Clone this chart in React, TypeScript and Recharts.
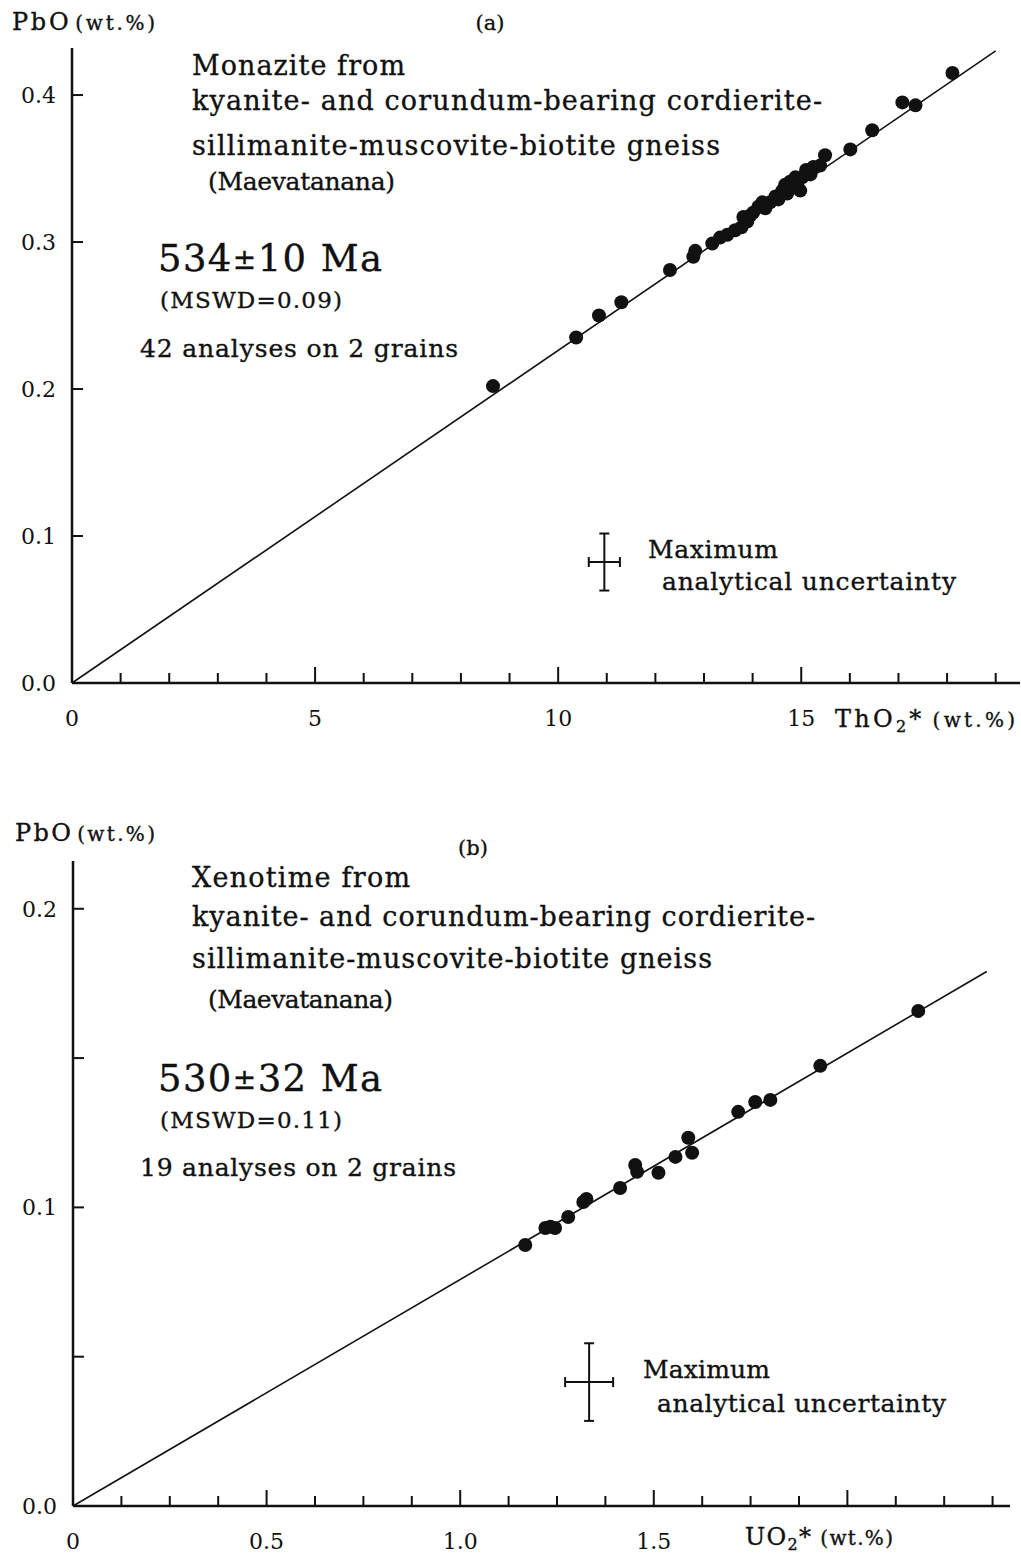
import React from 'react'
import { ScatterChart, Scatter, XAxis, YAxis, ReferenceLine, ErrorBar } from 'recharts'

// (a) monazite: ThO2* vs PbO (wt.%)
const monaziteTh = [
  8.66, 10.37, 10.84, 11.30, 12.30, 12.78, 12.82, 13.17, 13.33, 13.48,
  13.64, 13.77, 13.81, 13.89, 13.95, 14.01, 14.12, 14.20, 14.26, 14.36,
  14.47, 14.53, 14.57, 14.61, 14.67, 14.71, 14.77, 14.84, 14.88, 14.92,
  14.98, 15.02, 15.10, 15.19, 15.25, 15.39, 15.49, 16.01, 16.46, 17.08,
  17.35, 18.11,
]
const monazitePb = [
  0.202, 0.235, 0.250, 0.259, 0.281, 0.290, 0.294, 0.299, 0.303, 0.305,
  0.308, 0.310, 0.317, 0.314, 0.318, 0.320, 0.324, 0.327, 0.323, 0.327,
  0.331, 0.329, 0.332, 0.335, 0.339, 0.333, 0.341, 0.337, 0.344, 0.339,
  0.335, 0.344, 0.349, 0.346, 0.351, 0.352, 0.359, 0.363, 0.376, 0.395,
  0.393, 0.415,
]

// (b) xenotime: UO2* vs PbO (wt.%)
const xenotimeU = [
  1.168, 1.220, 1.233, 1.245, 1.279, 1.318, 1.326, 1.413, 1.452, 1.457,
  1.512, 1.556, 1.589, 1.599, 1.718, 1.762, 1.801, 1.930, 2.183,
]
const xenotimePb = [
  0.0874, 0.0931, 0.0935, 0.0931, 0.0968, 0.1018, 0.1028, 0.1065, 0.1142, 0.1119,
  0.1116, 0.1169, 0.1233, 0.1183, 0.1320, 0.1353, 0.1360, 0.1474, 0.1658,
]

// isochron lines through the origin
const monaziteFit = [{ x: 0, y: 0 }, { x: 19.0, y: 0.43 }]
const xenotimeFit = [{ x: 0, y: 0 }, { x: 2.36, y: 0.179 }]

// "maximum analytical uncertainty" crosses
const monaziteErr = [{ x: 10.95, y: 0.0823, ex: 0.32, ey: 0.0194 }]
const xenotimeErr = [{ x: 1.333, y: 0.0415, ex: 0.062, ey: 0.013 }]

// axis ticks
const thTicks = [0, 1, 2, 3, 4, 5, 6, 7, 8, 9, 10, 11, 12, 13, 14, 15, 16, 17, 18, 19]
const thMajor = [5, 10, 15]
const thLabelValues = [0, 5, 10, 15]
const thLabels = ['0', '5', '10', '15']
const pbTicksA = [0, 0.1, 0.2, 0.3, 0.4]
const pbLabelsA = ['0.0', '0.1', '0.2', '0.3', '0.4']

const uTicks = [
  0, 0.125, 0.25, 0.375, 0.5, 0.625, 0.75, 0.875, 1.0, 1.125, 1.25, 1.375,
  1.5, 1.625, 1.75, 1.875, 2.0, 2.125, 2.25, 2.375,
]
const uMajor = [0.5, 1.0, 1.5, 2.0]
const uLabelValues = [0, 0.5, 1.0, 1.5]
const uLabels = ['0', '0.5', '1.0', '1.5']
const pbTicksB = [0, 0.05, 0.1, 0.15, 0.2]
const pbLabelsB = ['0.0', '', '0.1', '', '0.2']

const serif = '"DejaVu Serif", "Liberation Serif", serif'
const ink = '#111'

const near = (a: number, b: number) => Math.abs(a - b) < 1e-6

function XTick(props: any) {
  const { x = 0, y = 0, payload, majors, labelValues, labels } = props
  const v = payload?.value ?? 0
  const isMajor = majors.some((m: number) => near(m, v))
  const li = labelValues.findIndex((m: number) => near(m, v))
  return (
    <g>
      {v > 0 && (
        <line x1={x} y1={y} x2={x} y2={y - (isMajor ? 16 : 10)} stroke={ink} strokeWidth={2} />
      )}
      {li >= 0 && (
        <text x={x} y={y + 43} textAnchor="middle" fontFamily={serif} fontSize={22} fill={ink}>
          {labels[li]}
        </text>
      )}
    </g>
  )
}

function YTick(props: any) {
  const { x = 0, y = 0, payload, values, labels } = props
  const v = payload?.value ?? 0
  const li = values.findIndex((m: number) => near(m, v))
  return (
    <g>
      {v > 0 && <line x1={x} y1={y} x2={x + 11} y2={y} stroke={ink} strokeWidth={2} />}
      {li >= 0 && labels[li] && (
        <text x={x - 16} y={y + 8} textAnchor="end" fontFamily={serif} fontSize={22} fill={ink}>
          {labels[li]}
        </text>
      )}
    </g>
  )
}

const Dot = (p: any) => <circle cx={p.cx} cy={p.cy} r={7} fill={ink} />
const Nothing = () => <g />

const axisLine = { stroke: ink, strokeWidth: 2.5 }

// 文字标注，宽度按原图拉伸
function T({ x, y, w, size, children, anchor }: any) {
  return (
    <text
      x={x}
      y={y}
      fontFamily={serif}
      fontSize={size}
      fill={ink}
      stroke={ink}
      strokeWidth={0.35}
      textLength={w}
      lengthAdjust="spacing"
      textAnchor={anchor}
    >
      {children}
    </text>
  )
}

export default function App() {
  const monazite = monaziteTh.map((x, i) => ({ x, y: monazitePb[i] }))
  const xenotime = xenotimeU.map((x, i) => ({ x, y: xenotimePb[i] }))

  return (
    <div style={{ position: 'absolute', left: 0, top: 0, width: 1021, height: 1556, background: '#fff' }}>
      {/* (a) 独居石 */}
      <div style={{ position: 'absolute', left: 0, top: 0 }}>
        <ScatterChart width={1021} height={760} margin={{ top: 48, right: 1, left: 12, bottom: 37 }}>
          <XAxis
            type="number"
            dataKey="x"
            domain={[0, 19.5]}
            ticks={thTicks}
            interval={0}
            height={40}
            tickSize={0}
            tickMargin={0}
            tickLine={false}
            axisLine={axisLine}
            tick={(p: any) => <XTick {...p} majors={thMajor} labelValues={thLabelValues} labels={thLabels} />}
          />
          <YAxis
            type="number"
            dataKey="y"
            domain={[0, 0.432]}
            ticks={pbTicksA}
            interval={0}
            width={60}
            tickSize={0}
            tickMargin={0}
            tickLine={false}
            axisLine={axisLine}
            tick={(p: any) => <YTick {...p} values={pbTicksA} labels={pbLabelsA} />}
          />
          <ReferenceLine segment={monaziteFit} stroke={ink} strokeWidth={1.6} ifOverflow="visible" />
          <Scatter data={monazite} shape={Dot} isAnimationActive={false} />
          <Scatter data={monaziteErr} shape={Nothing} isAnimationActive={false}>
            <ErrorBar dataKey="ex" direction="x" width={5} stroke={ink} strokeWidth={2} isAnimationActive={false} />
            <ErrorBar dataKey="ey" direction="y" width={5} stroke={ink} strokeWidth={2} isAnimationActive={false} />
          </Scatter>
        </ScatterChart>
      </div>

      {/* (b) 磷钇矿 */}
      <div style={{ position: 'absolute', left: 0, top: 800 }}>
        <ScatterChart width={1021} height={756} margin={{ top: 61, right: 11, left: 13, bottom: 10 }}>
          <XAxis
            type="number"
            dataKey="x"
            domain={[0, 2.42]}
            ticks={uTicks}
            interval={0}
            height={40}
            tickSize={0}
            tickMargin={0}
            tickLine={false}
            axisLine={axisLine}
            tick={(p: any) => <XTick {...p} majors={uMajor} labelValues={uLabelValues} labels={uLabels} />}
          />
          <YAxis
            type="number"
            dataKey="y"
            domain={[0, 0.216]}
            ticks={pbTicksB}
            interval={0}
            width={60}
            tickSize={0}
            tickMargin={0}
            tickLine={false}
            axisLine={axisLine}
            tick={(p: any) => <YTick {...p} values={pbTicksB} labels={pbLabelsB} />}
          />
          <ReferenceLine segment={xenotimeFit} stroke={ink} strokeWidth={1.6} ifOverflow="visible" />
          <Scatter data={xenotime} shape={Dot} isAnimationActive={false} />
          <Scatter data={xenotimeErr} shape={Nothing} isAnimationActive={false}>
            <ErrorBar dataKey="ex" direction="x" width={5} stroke={ink} strokeWidth={2} isAnimationActive={false} />
            <ErrorBar dataKey="ey" direction="y" width={5} stroke={ink} strokeWidth={2} isAnimationActive={false} />
          </Scatter>
        </ScatterChart>
      </div>

      {/* 注释文字 */}
      <svg width={1021} height={1556} style={{ position: 'absolute', left: 0, top: 0, pointerEvents: 'none' }}>
        {/* panel a */}
        <T x={12} y={30} w={143} size={24}>PbO<tspan fontSize={20} dx={4}>(wt.%)</tspan></T>
        <T x={490} y={30} size={21} anchor="middle">(a)</T>
        <T x={192} y={75} w={213} size={27}>Monazite from</T>
        <T x={192} y={110} w={630} size={27}>kyanite- and corundum-bearing cordierite-</T>
        <T x={192} y={155} w={528} size={27}>sillimanite-muscovite-biotite gneiss</T>
        <T x={208} y={190} w={187} size={25}>(Maevatanana)</T>
        <T x={158} y={271} w={224} size={37}>534<tspan fontSize={28} dy={-2}>±</tspan><tspan dy={2}>10 Ma</tspan></T>
        <T x={160} y={308} w={182} size={23}>(MSWD=0.09)</T>
        <T x={140} y={357} w={318} size={25}>42 analyses on 2 grains</T>
        <T x={648} y={558} w={130} size={25}>Maximum</T>
        <T x={662} y={590} w={294} size={25}>analytical uncertainty</T>
        <T x={835} y={727} w={180} size={24}>ThO<tspan fontSize={16} dy={5}>2</tspan><tspan fontSize={24} dy={-5}>*</tspan><tspan fontSize={20} dx={8}>(wt.%)</tspan></T>

        {/* panel b */}
        <T x={15} y={841} w={140} size={24}>PbO<tspan fontSize={20} dx={4}>(wt.%)</tspan></T>
        <T x={473} y={855} size={21} anchor="middle">(b)</T>
        <T x={192} y={887} w={218} size={27}>Xenotime from</T>
        <T x={192} y={926} w={623} size={27}>kyanite- and corundum-bearing cordierite-</T>
        <T x={192} y={968} w={520} size={27}>sillimanite-muscovite-biotite gneiss</T>
        <T x={208} y={1008} w={185} size={25}>(Maevatanana)</T>
        <T x={158} y={1091} w={224} size={37}>530<tspan fontSize={28} dy={-2}>±</tspan><tspan dy={2}>32 Ma</tspan></T>
        <T x={160} y={1128} w={182} size={23}>(MSWD=0.11)</T>
        <T x={140} y={1176} w={316} size={25}>19 analyses on 2 grains</T>
        <T x={643} y={1378} w={127} size={25}>Maximum</T>
        <T x={657} y={1412} w={289} size={25}>analytical uncertainty</T>
        <T x={745} y={1545} w={148} size={24}>UO<tspan fontSize={16} dy={5}>2</tspan><tspan fontSize={24} dy={-5}>*</tspan><tspan fontSize={20} dx={8}>(wt.%)</tspan></T>
      </svg>
    </div>
  )
}
